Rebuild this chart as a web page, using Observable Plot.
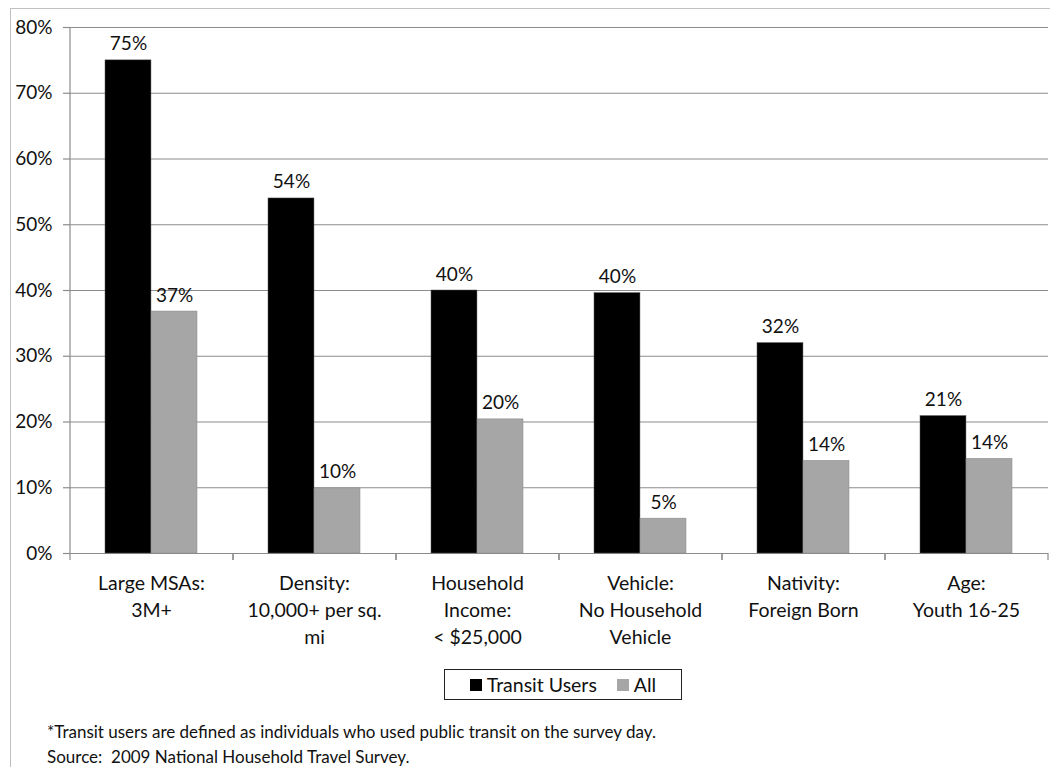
<!DOCTYPE html>
<html>
<head>
<meta charset="utf-8">
<script src="https://cdn.jsdelivr.net/npm/d3@7"></script>
<script src="https://cdn.jsdelivr.net/npm/@observablehq/plot@0.6"></script>
<style>
  html, body { margin: 0; padding: 0; background: #fff; }
  #wrap { position: relative; width: 1050px; height: 767px; overflow: hidden; font-family: Lato, "Liberation Sans", sans-serif; color: #111; background: #fff; }
  #border { position: absolute; left: 10px; top: 8px; width: 1100px; height: 800px; border-left: 1.5px solid #c0c0c0; border-top: 1.5px solid #c0c0c0; }
  #chart { position: absolute; left: 0; top: 0; }
  #legend { position: absolute; left: 444px; top: 669px; width: 236px; height: 29px; border: 1.5px solid #222; display: flex; align-items: center; justify-content: center; font-size: 19.5px; background: #fff; }
  .sw { display: inline-block; width: 12px; height: 12px; margin-right: 5px; }
  .item { display: flex; align-items: center; margin: 0 10px; }
  #note { position: absolute; left: 47px; top: 719px; font-size: 17px; line-height: 25px; color: #111; }
</style>
</head>
<body>
<div id="wrap">
  <div id="border"></div>
  <div id="chart"></div>
  <div id="legend"></div>
  <div id="note">*Transit users are defined as individuals who used public transit on the survey day.<br>Source:&nbsp; 2009 National Household Travel Survey.</div>
</div>
<script>
const categories = [
  "Large MSAs:\n3M+",
  "Density:\n10,000+ per sq.\nmi",
  "Household\nIncome:\n< $25,000",
  "Vehicle:\nNo Household\nVehicle",
  "Nativity:\nForeign Born",
  "Age:\nYouth 16-25"
];
const transitUsers = [0.75, 0.54, 0.40, 0.396, 0.32, 0.209];
const allPeople = [0.368, 0.099, 0.204, 0.053, 0.141, 0.144];
const seriesNames = ["Transit Users", "All"];
const seriesColors = ["#000000", "#a6a6a6"];
const yTicks = [0, 0.1, 0.2, 0.3, 0.4, 0.5, 0.6, 0.7, 0.8];

const rows = categories.flatMap((c, i) => [
  {category: c, series: seriesNames[0], value: transitUsers[i]},
  {category: c, series: seriesNames[1], value: allPeople[i]}
]);

const W = 1050, H = 650, ML = 70, MR = 2, MT = 27, MB = 97;
const pad = 0.435;
const step = (W - ML - MR) / categories.length;
const bw = step * (1 - pad);
const half = bw / 2;
const fmt = d3.format(".0%");
const gridColor = "#8c8c8c";

const chart = Plot.plot({
  width: W, height: H,
  marginLeft: ML, marginRight: MR, marginTop: MT, marginBottom: MB,
  style: {fontFamily: "Lato, 'Liberation Sans', sans-serif", fontSize: "18px", color: "#111", background: "transparent"},
  x: {domain: categories, paddingInner: pad, paddingOuter: pad / 2, label: null},
  y: {domain: [0, 0.8], ticks: yTicks, label: null},
  color: {domain: seriesNames, range: seriesColors},
  marks: [
    Plot.gridY(yTicks, {stroke: gridColor, strokeOpacity: 1, strokeWidth: 1.2}),
    Plot.axisY(yTicks, {tickFormat: fmt, tickSize: 7, stroke: gridColor, strokeWidth: 1.2, tickPadding: 11, fontSize: 19, label: null, fill: "#111"}),
    Plot.ruleX([categories[0]], {x: d => d, dx: -step / 2, y1: 0, y2: 0.8, stroke: gridColor, strokeWidth: 1.2}),
    Plot.axisX({tickSize: 7, text: null, dx: step / 2, stroke: gridColor, strokeWidth: 1.2}),
    Plot.axisX({tickSize: 7, text: null, dx: -step / 2, stroke: gridColor, strokeWidth: 1.2}),
    Plot.axisX({tickSize: 0, tickPadding: 17, lineHeight: 1.4, fontSize: 19.5, label: null, fill: "#111"}),
    Plot.ruleY([0], {stroke: gridColor, strokeWidth: 1.2}),
    Plot.barY(rows.filter(d => d.series === seriesNames[0]), {x: "category", y: "value", fill: "series", insetRight: half, stroke: "#555", strokeWidth: 0.5}),
    Plot.barY(rows.filter(d => d.series === seriesNames[1]), {x: "category", y: "value", fill: "series", insetLeft: half, stroke: "#888", strokeWidth: 0.5}),
    Plot.text(rows.filter(d => d.series === seriesNames[0]), {x: "category", y: "value", text: d => fmt(d.value), dx: -half / 2, dy: -10, lineAnchor: "bottom", fontSize: 19, fill: "#111"}),
    Plot.text(rows.filter(d => d.series === seriesNames[1]), {x: "category", y: "value", text: d => fmt(d.value), dx: half / 2, dy: -10, lineAnchor: "bottom", fontSize: 19, fill: "#111"})
  ]
});
document.getElementById("chart").appendChild(chart);

const legend = document.getElementById("legend");
seriesNames.forEach((s, i) => {
  const item = document.createElement("div");
  item.className = "item";
  const sw = document.createElement("span");
  sw.className = "sw";
  sw.style.background = seriesColors[i];
  item.appendChild(sw);
  item.appendChild(document.createTextNode(s));
  legend.appendChild(item);
});
</script>
</body>
</html>
